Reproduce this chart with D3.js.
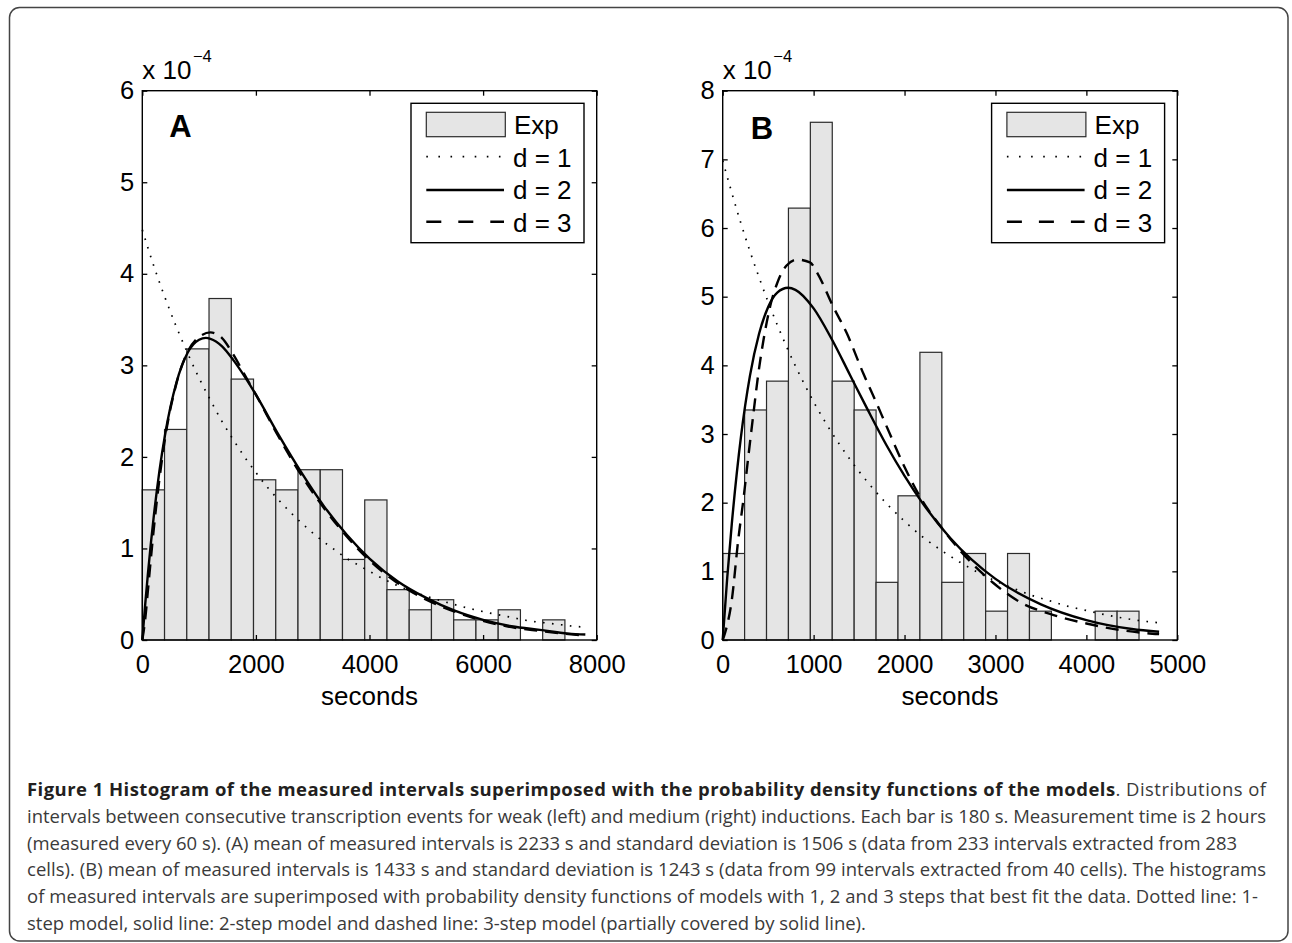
<!DOCTYPE html>
<html>
<head>
<meta charset="utf-8">
<script src="https://cdn.jsdelivr.net/npm/d3@7"></script>
<style>
  html, body { margin: 0; padding: 0; background: #fff; }
  svg { display: block; }
</style>
</head>
<body>
<script>
// ---------------- DATA ----------------
// Panel A: histogram densities (x 1e-4), 19 bins of equal width (seconds)
const binWidthA = 391.6;
const barsA = [1.64, 2.30, 3.18, 3.73, 2.85, 1.75, 1.64, 1.86, 1.86, 0.88, 1.53, 0.55, 0.33, 0.44, 0.22, 0.22, 0.33, 0, 0.22];
// Panel B
const binWidthB = 241;
const barsB = [1.26, 3.35, 3.77, 6.29, 7.54, 3.77, 3.35, 0.84, 2.10, 4.19, 0.84, 1.26, 0.42, 1.26, 0.42, 0, 0, 0.42, 0.42];

// Model curves [seconds, density x 1e-4]
const d1A = [[0,4.48],[200,4.09],[400,3.74],[600,3.42],[800,3.13],[1000,2.86],[1200,2.62],[1400,2.39],[1600,2.19],[1800,2.00],[2000,1.83],[2200,1.67],[2400,1.53],[2600,1.40],[2800,1.28],[3000,1.17],[3200,1.07],[3400,0.98],[3600,0.89],[3800,0.82],[4000,0.75],[4400,0.62],[4800,0.52],[5200,0.44],[5600,0.37],[6000,0.31],[6400,0.26],[6800,0.21],[7200,0.18],[7600,0.15],[7800,0.14]];
const d2A = [[0,0],[50,0.38],[100,0.73],[150,1.05],[200,1.34],[300,1.84],[400,2.24],[600,2.81],[800,3.14],[1000,3.28],[1120,3.30],[1200,3.29],[1400,3.21],[1600,3.06],[1800,2.88],[2000,2.68],[2400,2.24],[2800,1.83],[3200,1.46],[3600,1.15],[4000,0.89],[4500,0.64],[5000,0.46],[5500,0.32],[6000,0.22],[6500,0.15],[7000,0.11],[7500,0.07],[7800,0.06]];
const d3A = [[0,0],[50,0.22],[100,0.55],[200,1.20],[300,1.75],[400,2.20],[600,2.80],[800,3.15],[1000,3.31],[1200,3.36],[1400,3.30],[1600,3.12],[1800,2.90],[2000,2.68],[2400,2.22],[2800,1.80],[3200,1.44],[3600,1.13],[4000,0.87],[4500,0.62],[5000,0.44],[5500,0.31],[6000,0.21],[6500,0.14],[7000,0.10],[7500,0.065],[7800,0.05]];

const d1B = [[0,6.98],[200,6.07],[400,5.28],[600,4.59],[800,3.99],[1000,3.47],[1200,3.02],[1400,2.63],[1600,2.29],[1800,1.99],[2000,1.73],[2200,1.50],[2400,1.31],[2600,1.14],[2800,0.99],[3000,0.86],[3200,0.75],[3400,0.65],[3600,0.57],[3800,0.49],[4000,0.43],[4200,0.37],[4400,0.32],[4600,0.28],[4800,0.25]];
const d2B = [[0,0],[50,0.91],[100,1.69],[200,2.95],[300,3.85],[400,4.46],[500,4.85],[600,5.06],[720,5.13],[800,5.10],[1000,4.83],[1200,4.38],[1400,3.86],[1600,3.34],[1800,2.84],[2000,2.39],[2200,1.99],[2500,1.49],[3000,0.89],[3500,0.52],[4000,0.29],[4500,0.16],[4800,0.12]];
const d3B = [[0,0],[25,0.10],[100,0.58],[170,1.45],[230,2.07],[280,2.65],[340,3.32],[390,3.86],[450,4.38],[520,4.85],[600,5.20],[700,5.45],[814,5.54],[960,5.50],[1034,5.36],[1217,4.85],[1364,4.47],[1547,3.88],[1675,3.50],[1800,3.12],[2000,2.52],[2200,2.02],[2400,1.65],[2600,1.32],[2977,0.83],[3300,0.53],[3600,0.38],[4000,0.24],[4260,0.17],[4660,0.10],[4800,0.085]];

// Axis ticks
const xTicksA = [0, 2000, 4000, 6000, 8000];
const yTicksA = [0, 1, 2, 3, 4, 5, 6];
const xTicksB = [0, 1000, 2000, 3000, 4000, 5000];
const yTicksB = [0, 1, 2, 3, 4, 5, 6, 7, 8];

const panelLabels = ["A", "B"];
const legendLabels = ["Exp", "d = 1", "d = 2", "d = 3"];
const xAxisTitle = "seconds";
const yScaleNote = "x 10";
const yScaleExp = "\u22124";

const captionBold = "Figure 1 Histogram of the measured intervals superimposed with the probability density functions of the models";
const captionLines = [
  ". Distributions of",
  "intervals between consecutive transcription events for weak (left) and medium (right) inductions. Each bar is 180 s. Measurement time is 2 hours",
  "(measured every 60 s). (A) mean of measured intervals is 2233 s and standard deviation is 1506 s (data from 233 intervals extracted from 283",
  "cells). (B) mean of measured intervals is 1433 s and standard deviation is 1243 s (data from 99 intervals extracted from 40 cells). The histograms",
  "of measured intervals are superimposed with probability density functions of models with 1, 2 and 3 steps that best fit the data. Dotted line: 1-",
  "step model, solid line: 2-step model and dashed line: 3-step model (partially covered by solid line)."
];

// ---------------- DRAWING ----------------
const W = 1292, H = 943;
const svg = d3.select("body").append("svg").attr("width", W).attr("height", H);
svg.append("rect").attr("width", W).attr("height", H).attr("fill", "#fff");

// rounded frame
svg.append("rect")
  .attr("x", 9.5).attr("y", 7.5).attr("width", 1278.5).attr("height", 933.5)
  .attr("rx", 10).attr("ry", 10)
  .attr("fill", "none").attr("stroke", "#444").attr("stroke-width", 1.5);

const FONT = "'Liberation Sans', Arial, Helvetica, sans-serif";
const TOP = 90.7, BOTTOM = 640;

const panels = [
  { label: panelLabels[0], left: 142.3, right: 596.7, xmax: 8000, ymax: 6,
    xTicks: xTicksA, yTicks: yTicksA, bars: barsA, bw: binWidthA,
    d1: d1A, d2: d2A, d3: d3A, labelDx: 27, labelY: 136.5 },
  { label: panelLabels[1], left: 722.7, right: 1177.3, xmax: 5000, ymax: 8,
    xTicks: xTicksB, yTicks: yTicksB, bars: barsB, bw: binWidthB,
    d1: d1B, d2: d2B, d3: d3B, labelDx: 28, labelY: 139 }
];

panels.forEach(p => {
  const x = d3.scaleLinear().domain([0, p.xmax]).range([p.left, p.right]);
  const y = d3.scaleLinear().domain([0, p.ymax]).range([BOTTOM, TOP]);
  const g = svg.append("g");

  // bars
  g.selectAll("rect.bar").data(p.bars).enter().append("rect")
    .attr("class", "bar")
    .attr("x", (d, i) => x(i * p.bw))
    .attr("width", (d, i) => x((i + 1) * p.bw) - x(i * p.bw))
    .attr("y", d => y(d))
    .attr("height", d => y(0) - y(d))
    .attr("fill", "#e5e5e5")
    .attr("stroke", "#2b2b2b")
    .attr("stroke-width", 1.2);

  const line = d3.line().x(d => x(d[0])).y(d => y(d[1])).curve(d3.curveMonotoneX);

  // dotted d=1
  g.append("path").datum(p.d1).attr("d", line)
    .attr("fill", "none").attr("stroke", "#000").attr("stroke-width", 1.7)
    .attr("stroke-dasharray", "1.6,7.4");
  // dashed d=3
  g.append("path").datum(p.d3).attr("d", line)
    .attr("fill", "none").attr("stroke", "#000").attr("stroke-width", 2.4)
    .attr("stroke-dasharray", "13,8");
  // solid d=2
  g.append("path").datum(p.d2).attr("d", line)
    .attr("fill", "none").attr("stroke", "#000").attr("stroke-width", 2.4);

  // axes (inward ticks on all four sides)
  const styleAxis = sel => {
    sel.select(".domain").remove();
    sel.selectAll(".tick line").attr("stroke", "#000").attr("stroke-width", 1.3);
    sel.selectAll(".tick text").attr("fill", "#000")
      .style("font-family", FONT).style("font-size", "25.5px");
  };
  g.append("g").attr("transform", `translate(0,${BOTTOM})`)
    .call(d3.axisBottom(x).tickValues(p.xTicks).tickFormat(d3.format("d"))
      .tickSizeInner(-5).tickSizeOuter(0).tickPadding(15))
    .call(styleAxis);
  g.append("g").attr("transform", `translate(0,${TOP})`)
    .call(d3.axisTop(x).tickValues(p.xTicks).tickFormat("")
      .tickSizeInner(-5).tickSizeOuter(0))
    .call(styleAxis);
  g.append("g").attr("transform", `translate(${p.left},0)`)
    .call(d3.axisLeft(y).tickValues(p.yTicks).tickFormat(d3.format("d"))
      .tickSizeInner(-5).tickSizeOuter(0).tickPadding(8))
    .call(styleAxis);
  g.append("g").attr("transform", `translate(${p.right},0)`)
    .call(d3.axisRight(y).tickValues(p.yTicks).tickFormat("")
      .tickSizeInner(-5).tickSizeOuter(0))
    .call(styleAxis);

  // axes box
  g.append("rect").attr("x", p.left).attr("y", TOP)
    .attr("width", p.right - p.left).attr("height", BOTTOM - TOP)
    .attr("fill", "none").attr("stroke", "#000").attr("stroke-width", 1.4);

  // x axis title
  g.append("text").attr("x", (p.left + p.right) / 2).attr("y", 704.5)
    .attr("text-anchor", "middle")
    .style("font-family", FONT).style("font-size", "26px")
    .text(xAxisTitle);

  // y exponent note
  const note = g.append("text").attr("x", p.left).attr("y", 79)
    .style("font-family", FONT).style("font-size", "26px").text(yScaleNote);
  note.append("tspan").attr("dx", 1.5).attr("dy", -17)
    .style("font-size", "16.5px").text(yScaleExp);

  // panel label
  g.append("text").attr("x", p.left + p.labelDx).attr("y", p.labelY)
    .style("font-family", FONT).style("font-size", "31px").style("font-weight", "bold")
    .text(p.label);

  // legend
  const lx = p.right - 185.7, ly = 103.3;
  const lg = g.append("g").attr("transform", `translate(${lx},${ly})`);
  lg.append("rect").attr("width", 173).attr("height", 139.4)
    .attr("fill", "#fff").attr("stroke", "#000").attr("stroke-width", 1.4);
  lg.append("rect").attr("x", 15.3).attr("y", 9).attr("width", 79).attr("height", 24.4)
    .attr("fill", "#e5e5e5").attr("stroke", "#2b2b2b").attr("stroke-width", 1.2);
  const rowsY = [53.4, 86.7, 118.4];
  const dashes = ["1.6,10.5", null, "15,17"];
  const widths = [1.7, 2.4, 2.4];
  rowsY.forEach((ry, i) => {
    const l = lg.append("line").attr("x1", 15.3).attr("x2", 93).attr("y1", ry).attr("y2", ry)
      .attr("stroke", "#000").attr("stroke-width", widths[i]);
    if (dashes[i]) l.attr("stroke-dasharray", dashes[i]);
  });
  const textY = [30.5, 63.6, 96.2, 128.6];
  legendLabels.forEach((t, i) => {
    lg.append("text").attr("x", i === 0 ? 103 : 102).attr("y", textY[i])
      .style("font-family", FONT).style("font-size", "26px").text(t);
  });
});

// ---------------- CAPTION ----------------
const CAPFONT = "'Open Sans', 'Noto Sans', sans-serif";
const capX = 27;
const capY0 = 796, capDY = 26.8;
const targets = [1239, 1239, 1210, 1239, 1231, null];

// size font so that line 2 matches the measured width
const probe = svg.append("text").style("font-family", CAPFONT).style("font-size", "17px").text(captionLines[1]);
const natural = probe.node().getComputedTextLength();
probe.remove();
const capSize = 17 * 1239 / natural;

captionLines.forEach((t, i) => {
  const tx = svg.append("text").attr("x", capX).attr("y", capY0 + i * capDY)
    .style("font-family", CAPFONT).style("font-size", capSize + "px").attr("fill", "#3a3a3a");
  if (i === 0) {
    tx.append("tspan").style("font-weight", "bold").attr("fill", "#231f20").text(captionBold);
    tx.append("tspan").text(t);
  } else {
    tx.text(t);
  }
  if (targets[i]) {
    tx.attr("textLength", targets[i]).attr("lengthAdjust", "spacing");
  }
});
</script>
</body>
</html>
